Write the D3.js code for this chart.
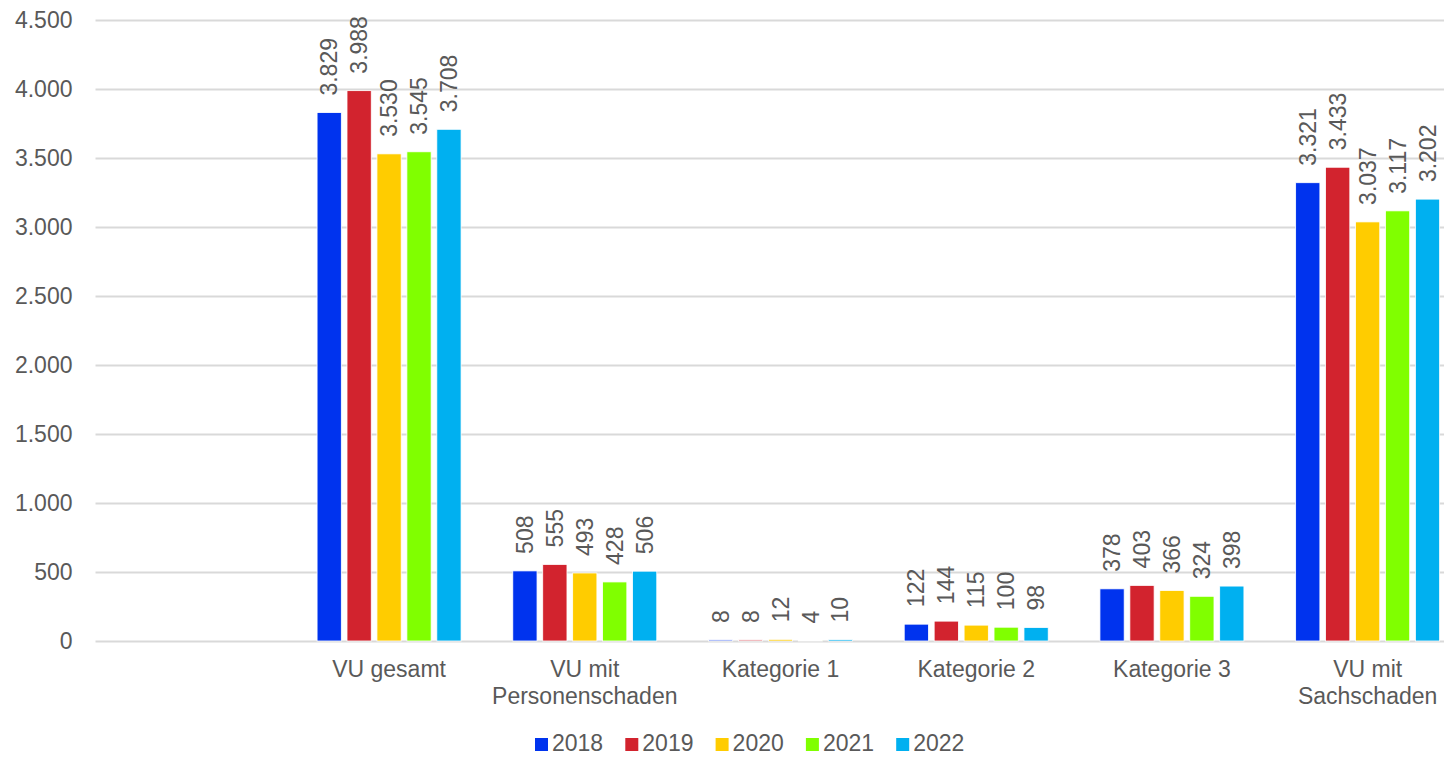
<!DOCTYPE html>
<html>
<head>
<meta charset="utf-8">
<script src="https://cdn.jsdelivr.net/npm/d3@7"></script>
<style>
  body { margin: 0; background: #fff; }
  text { font-family: "Liberation Sans", Arial, sans-serif; fill: #595959; }
</style>
</head>
<body>
<svg id="chart" width="1444" height="757"></svg>
<script>
var years = ['2018', '2019', '2020', '2021', '2022'];
var categories = ['VU gesamt', 'VU mit\nPersonenschaden', 'Kategorie 1', 'Kategorie 2', 'Kategorie 3', 'VU mit\nSachschaden'];
var values2018 = [3829, 508, 8, 122, 378, 3321];
var values2019 = [3988, 555, 8, 144, 403, 3433];
var values2020 = [3530, 493, 12, 115, 366, 3037];
var values2021 = [3545, 428, 4, 100, 324, 3117];
var values2022 = [3708, 506, 10, 98, 398, 3202];
var colors = ['#0033ee', '#d2232e', '#ffcc00', '#80ff00', '#00b0f0'];
var yTicks = [0, 500, 1000, 1500, 2000, 2500, 3000, 3500, 4000, 4500];

var series = [values2018, values2019, values2020, values2021, values2022];

var svg = d3.select('#chart');
var left = 95.5, right = 1465.5;

// first slot stays empty like in the original sheet
var x0 = d3.scaleBand().domain([''].concat(categories)).range([left, right]);
var x1 = d3.scaleBand().domain(years).range([-72, 72]).paddingInner(0.19);
var y = d3.scaleLinear().domain([0, 4500]).range([641, 20]);

var fmt = d3.formatLocale({decimal: ',', thousands: '.', grouping: [3], currency: ['', '€']}).format(',d');

var yAxis = svg.append('g')
    .attr('transform', 'translate(' + left + ',0)')
    .call(d3.axisLeft(y).tickValues(yTicks).tickSize(-(right - left)).tickPadding(23).tickFormat(fmt));
yAxis.select('.domain').remove();
yAxis.selectAll('line').attr('stroke', '#d9d9d9').attr('stroke-width', 2);
yAxis.selectAll('text').attr('font-size', 23).attr('fill', '#595959')
    .attr('font-family', '"Liberation Sans", Arial, sans-serif');

var groups = svg.selectAll('g.series')
    .data(series)
    .enter().append('g')
    .attr('class', 'series');

groups.each(function(vals, i) {
  var g = d3.select(this);
  var rows = vals.map(function(v, j) { return {cat: categories[j], v: v}; });

  g.selectAll('rect')
      .data(rows)
      .enter().append('rect')
      .attr('x', function(d) { return x0(d.cat) + x0.bandwidth() / 2 + x1(years[i]); })
      .attr('y', function(d) { return y(d.v); })
      .attr('width', x1.bandwidth())
      .attr('height', function(d) { return y(0) - y(d.v); })
      .attr('fill', colors[i])
      .attr('stroke', '#fff')
      .attr('stroke-width', 0.8);

  g.selectAll('text')
      .data(rows)
      .enter().append('text')
      .attr('transform', function(d) {
        var cx = x0(d.cat) + x0.bandwidth() / 2 + x1(years[i]) + x1.bandwidth() / 2;
        return 'translate(' + cx + ',' + (y(d.v) - 17) + ') rotate(-90)';
      })
      .attr('dy', '0.35em')
      .attr('font-size', 23)
      .text(function(d) { return fmt(d.v); });
});

// category labels, may wrap on two lines
svg.append('g').selectAll('text')
    .data(categories)
    .enter().append('text')
    .attr('x', function(d) { return x0(d) + x0.bandwidth() / 2; })
    .attr('y', 676.5)
    .attr('text-anchor', 'middle')
    .attr('font-size', 23)
    .each(function(d) {
      var t = d3.select(this);
      d.split('\n').forEach(function(line, k) {
        t.append('tspan')
            .attr('x', t.attr('x'))
            .attr('dy', k === 0 ? 0 : 27)
            .text(line);
      });
    });

var legend = svg.append('g').selectAll('g')
    .data(years)
    .enter().append('g')
    .attr('transform', function(d, i) { return 'translate(' + (535 + i * 90.3) + ',0)'; });
legend.append('rect')
    .attr('y', 738)
    .attr('width', 13)
    .attr('height', 13)
    .attr('fill', function(d, i) { return colors[i]; });
legend.append('text')
    .attr('x', 17)
    .attr('y', 751)
    .attr('font-size', 23)
    .text(function(d) { return d; });
</script>
</body>
</html>
